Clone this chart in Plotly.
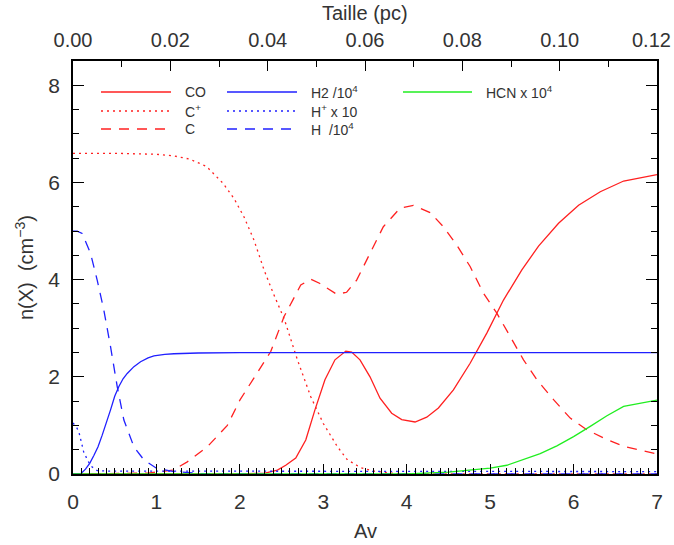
import plotly.graph_objects as go

# ---------------- data ----------------
av_co = [0, 2.0, 2.3, 2.45, 2.55, 2.67, 2.79, 2.9, 3.02, 3.14, 3.27, 3.34, 3.44, 3.56, 3.68,
         3.82, 3.94, 4.1, 4.24, 4.38, 4.56, 4.76, 4.96, 5.16, 5.38, 5.58, 5.82, 6.06, 6.32, 6.6, 7.0]
co = [0, 0, 0.02, 0.08, 0.18, 0.33, 0.7, 1.32, 1.94, 2.35, 2.53, 2.51, 2.35, 2.0, 1.56,
      1.25, 1.12, 1.07, 1.17, 1.36, 1.73, 2.28, 2.9, 3.58, 4.2, 4.69, 5.16, 5.53, 5.81, 6.03, 6.16]

av_cp = [0, 0.5, 1.0, 1.2, 1.4, 1.6, 1.8, 1.93, 2.05, 2.17, 2.29, 2.4, 2.53, 2.69, 2.85,
         3.0, 3.17, 3.29, 3.45, 3.6, 3.8, 4.0, 7.0]
cp = [6.6, 6.6, 6.58, 6.55, 6.48, 6.33, 5.98, 5.67, 5.29, 4.81, 4.2, 3.72, 3.2, 2.35, 1.59,
      1.04, 0.56, 0.29, 0.13, 0.06, 0.02, 0, 0]

av_c = [0, 0.9, 1.2, 1.37, 1.61, 1.85, 2.0, 2.2, 2.37, 2.53, 2.73, 2.85, 2.96, 3.16, 3.28, 3.4,
        3.56, 3.72, 3.92, 4.08, 4.28, 4.44, 4.6, 4.76, 4.92, 5.08, 5.24, 5.4, 5.56, 5.76, 5.96,
        6.16, 6.36, 6.6, 7.0]
c = [0, 0.02, 0.08, 0.25, 0.56, 1.0, 1.52, 2.05, 2.52, 3.24, 3.89, 4.01, 3.92, 3.7, 3.74, 3.99,
     4.54, 5.09, 5.47, 5.53, 5.38, 5.09, 4.71, 4.27, 3.72, 3.31, 2.83, 2.35, 1.94, 1.53, 1.15,
     0.91, 0.74, 0.57, 0.41]

av_h2 = [0, 0.09, 0.15, 0.2, 0.25, 0.3, 0.35, 0.4, 0.45, 0.5, 0.55, 0.6, 0.65, 0.73, 0.81,
         0.9, 0.97, 1.1, 1.21, 1.5, 2.0, 7.0]
h2 = [0, 0, 0.1, 0.22, 0.38, 0.56, 0.8, 1.05, 1.32, 1.6, 1.8, 1.96, 2.07, 2.21, 2.31,
      2.39, 2.43, 2.46, 2.475, 2.49, 2.5, 2.5]

av_hp = [0, 0.04, 0.07, 0.13, 0.21, 0.29, 0.4, 7.0]
hp = [1.05, 0.97, 0.87, 0.44, 0.17, 0.07, 0.06, 0.05]

av_h = [0, 0.05, 0.11, 0.21, 0.29, 0.37, 0.45, 0.53, 0.61, 0.73, 0.85, 1.0, 1.21, 1.4, 1.6, 7.0]
h = [5.0, 5.0, 4.95, 4.54, 3.99, 3.37, 2.62, 1.8, 1.11, 0.56, 0.29, 0.12, 0.05, 0.02, 0, 0]

av_hcn = [0, 4.0, 4.5, 4.8, 5.0, 5.2, 5.4, 5.6, 5.8, 6.0, 6.2, 6.4, 6.6, 6.8, 7.0]
hcn = [0, 0, 0.04, 0.08, 0.12, 0.18, 0.3, 0.42, 0.58, 0.77, 0.98, 1.2, 1.39, 1.46, 1.52]

taille_range = [0.0, 0.12]
taille_ticks = [0.00, 0.02, 0.04, 0.06, 0.08, 0.10, 0.12]

legend_labels = [["CO", "C<sup>+</sup>", "C"],
                 ["H2 /10<sup>4</sup>", "H<sup>+</sup> x 10", "H  /10<sup>4</sup>"],
                 ["HCN x 10<sup>4</sup>"]]

RED, BLUE, GREEN = "#ff2020", "#2020ff", "#20ee20"
FONT = "Liberation Sans"
TXT = "#333"

W, H = 674, 545
PL, PR, PT, PB = 73, 657, 61, 474          # plot box in window pixels


def px(xs):
    return (xs - PL) / (PR - PL)


def py(ys):
    return (PB - ys) / (PB - PT)


fig = go.Figure()
series = [
    (av_cp, cp, RED, "2px,4px"),
    (av_c, c, RED, "10px,8px"),
    (av_co, co, RED, "solid"),
    (av_hp, hp, BLUE, "2px,4px"),
    (av_h, h, BLUE, "10px,8px"),
    (av_h2, h2, BLUE, "solid"),
    (av_hcn, hcn, GREEN, "solid"),
]
for xs, ys, col, dash in series:
    fig.add_trace(go.Scatter(x=xs, y=ys, mode="lines", showlegend=False, hoverinfo="skip",
                             line=dict(color=col, width=1.3, dash=dash)))

# dummy trace to activate the top axis
fig.add_trace(go.Scatter(x=taille_range, y=[None, None], xaxis="x2", mode="lines",
                         showlegend=False, hoverinfo="skip"))

axis_common = dict(showline=True, linecolor="black", linewidth=1.5, ticks="inside",
                   tickcolor="black", showgrid=False, zeroline=False, automargin=False,
                   ticklabeloverflow="allow")

# top labels; the last one is padded so it stays inside the window
taille_text = [f"{v:.2f}" for v in taille_ticks]
taille_text[-1] = taille_text[-1] + "\u00a0\u00a0"

fig.update_layout(
    width=W, height=H,
    margin=dict(l=PL, r=W - PR, t=PT, b=H - PB, autoexpand=False),
    paper_bgcolor="white", plot_bgcolor="white",
    xaxis=dict(range=[0, 7], dtick=1, ticklen=10, tickwidth=1.2,
               minor=dict(dtick=0.1, ticks="inside", ticklen=6, tickcolor="black"),
               mirror=False, ticklabelstandoff=8,
               tickfont=dict(family=FONT, size=21, color=TXT), **axis_common),
    xaxis2=dict(range=taille_range, tickmode="array", tickvals=taille_ticks,
                ticktext=taille_text, overlaying="x", side="top",
                ticklen=10, tickwidth=1.2,
                minor=dict(dtick=0.01, tick0=0, ticks="inside", ticklen=6, tickcolor="black"),
                ticklabelstandoff=4,
                tickfont=dict(family=FONT, size=20, color=TXT), **axis_common),
    yaxis=dict(range=[0, 8.5], dtick=2, ticklen=11, tickwidth=1.2,
               minor=dict(dtick=0.5, ticks="inside", ticklen=6, tickcolor="black"),
               mirror="ticks", ticklabelstandoff=7,
               tickfont=dict(family=FONT, size=21, color=TXT), **axis_common),
)

# axis titles
fig.add_annotation(text="Av", x=px(365), y=py(531), xref="paper", yref="paper", showarrow=False,
                   xanchor="center", yanchor="middle", font=dict(family=FONT, size=20, color=TXT))
fig.add_annotation(text="Taille (pc)", x=px(365), y=py(13), xref="paper", yref="paper",
                   showarrow=False, xanchor="center", yanchor="middle",
                   font=dict(family=FONT, size=20, color=TXT))
fig.add_annotation(text="n(X)  (cm<sup>−3</sup>)", x=px(24), y=py(268), xref="paper", yref="paper",
                   showarrow=False, textangle=-90, xanchor="center", yanchor="middle",
                   font=dict(family=FONT, size=20, color=TXT))

# legend drawn by hand (three columns)
col_x = [(101, 171, 183), (227, 297, 309), (403, 472, 484)]
row_y = [92, 111, 129]
cols = [RED, BLUE, GREEN]
dashes = ["solid", "2px,4px", "10px,8px"]
for ci, labels in enumerate(legend_labels):
    x0, x1, xt = col_x[ci]
    for ri, lab in enumerate(labels):
        fy = py(row_y[ri])
        fig.add_shape(type="line", xref="paper", yref="paper",
                      x0=px(x0), x1=px(x1), y0=fy, y1=fy,
                      line=dict(color=cols[ci], width=1.3, dash=dashes[ri]))
        fig.add_annotation(text=lab, xref="paper", yref="paper", x=px(xt), y=fy,
                           showarrow=False, xanchor="left", yanchor="middle",
                           font=dict(family=FONT, size=14, color=TXT))

# remove the default 8 px page margin so the figure fills the window exactly
fig.write_html("out.html", config={"displayModeBar": False},
               post_script="document.body.style.margin='0';document.body.style.overflow='hidden';")
